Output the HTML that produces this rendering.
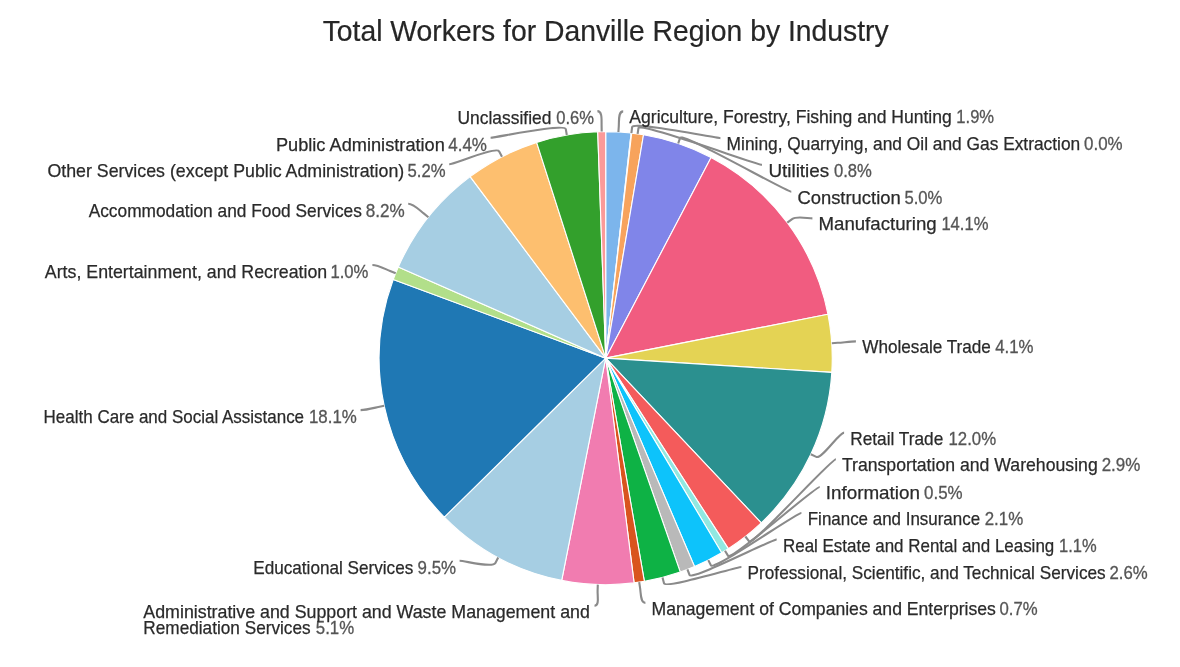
<!DOCTYPE html>
<html lang="en"><head><meta charset="utf-8"><title>Total Workers for Danville Region by Industry</title>
<style>
html,body{margin:0;padding:0;background:#fff;}
body{width:1180px;height:667px;overflow:hidden;font-family:"Liberation Sans",sans-serif;}
svg{display:block;}
text{font-family:"Liberation Sans",sans-serif;}
.t{font-size:28.8px;fill:#262626;stroke:#262626;stroke-width:.2px;}
.n{font-size:18.6px;fill:#2a2a2a;stroke:#2a2a2a;stroke-width:.25px;}
.p{font-size:18.6px;fill:#555555;stroke:#555555;stroke-width:.3px;}
.c{fill:none;stroke:#8a8a8a;stroke-width:2.1;stroke-linecap:butt;stroke-linejoin:round;}
</style></head><body>
<svg width="1180" height="667" viewBox="0 0 1180 667">
<rect width="1180" height="667" fill="#ffffff"/>
<text class="t" x="322.69" y="40.6" textLength="565.94" lengthAdjust="spacingAndGlyphs">Total Workers for Danville Region by Industry</text>
<g stroke="#ffffff" stroke-width="1.1" stroke-linejoin="round">
<path fill="#7cb5ec" d="M605.70 358.15L605.70 131.60A226.55 226.55 0 0 1 631.13 133.03Z"/>
<path fill="#434348" d="M605.70 358.15L631.13 133.03A226.55 226.55 0 0 1 631.69 133.10Z"/>
<path fill="#f7a35c" d="M605.70 358.15L631.69 133.10A226.55 226.55 0 0 1 643.53 134.78Z"/>
<path fill="#8085e9" d="M605.70 358.15L643.53 134.78A226.55 226.55 0 0 1 711.08 157.60Z"/>
<path fill="#f15c80" d="M605.70 358.15L711.08 157.60A226.55 226.55 0 0 1 827.97 314.30Z"/>
<path fill="#e4d354" d="M605.70 358.15L827.97 314.30A226.55 226.55 0 0 1 831.80 372.38Z"/>
<path fill="#2b908f" d="M605.70 358.15L831.80 372.38A226.55 226.55 0 0 1 761.23 522.88Z"/>
<path fill="#f45b5b" d="M605.70 358.15L761.23 522.88A226.55 226.55 0 0 1 728.29 548.67Z"/>
<path fill="#91e8e1" d="M605.70 358.15L728.29 548.67A226.55 226.55 0 0 1 721.64 552.79Z"/>
<path fill="#0dc3fb" d="M605.70 358.15L721.64 552.79A226.55 226.55 0 0 1 694.50 566.57Z"/>
<path fill="#b9b9b9" d="M605.70 358.15L694.50 566.57A226.55 226.55 0 0 1 680.29 572.07Z"/>
<path fill="#0eb245" d="M605.70 358.15L680.29 572.07A226.55 226.55 0 0 1 644.37 581.38Z"/>
<path fill="#d9541e" d="M605.70 358.15L644.37 581.38A226.55 226.55 0 0 1 634.09 582.91Z"/>
<path fill="#f17cb0" d="M605.70 358.15L634.09 582.91A226.55 226.55 0 0 1 561.71 580.39Z"/>
<path fill="#a6cee3" d="M605.70 358.15L561.71 580.39A226.55 226.55 0 0 1 444.30 517.13Z"/>
<path fill="#1f78b4" d="M605.70 358.15L444.30 517.13A226.55 226.55 0 0 1 393.23 279.54Z"/>
<path fill="#b2df8a" d="M605.70 358.15L393.23 279.54A226.55 226.55 0 0 1 398.29 267.00Z"/>
<path fill="#a6cee3" d="M605.70 358.15L398.29 267.00A226.55 226.55 0 0 1 470.16 176.61Z"/>
<path fill="#fdbf6f" d="M605.70 358.15L470.16 176.61A226.55 226.55 0 0 1 536.64 142.38Z"/>
<path fill="#33a02c" d="M605.70 358.15L536.64 142.38A226.55 226.55 0 0 1 597.73 131.74Z"/>
<path fill="#fb9a99" d="M605.70 358.15L597.73 131.74A226.55 226.55 0 0 1 605.70 131.60Z"/>
</g>
<g class="c">
<path d="M623.2 111.4C618.2 111.4 619.1 120.0 618.8 126.0L618.4 132.0"/>
<path d="M720.4 138.1C715.4 138.1 632.8 121.1 632.1 127.1L631.4 133.1"/>
<path d="M762.0 164.8C757.0 164.8 639.3 122.0 638.5 127.9L637.6 133.9"/>
<path d="M791.3 191.7C786.3 191.7 682.0 132.1 680.1 137.8L678.2 143.5"/>
<path d="M812.4 218.4C807.4 218.4 796.9 215.5 792.1 219.1L787.3 222.7"/>
<path d="M855.9 341.4C850.9 341.4 843.7 342.4 837.7 342.8L831.8 343.2"/>
<path d="M844.1 432.6C839.1 432.6 821.7 459.4 816.3 456.9L810.8 454.3"/>
<path d="M835.9 459.3C830.9 459.3 752.8 546.0 749.1 541.3L745.4 536.5"/>
<path d="M819.7 487.0C814.7 487.0 731.3 561.0 728.1 555.9L725.0 550.8"/>
<path d="M801.4 513.0C796.4 513.0 713.7 570.8 711.0 565.5L708.3 560.1"/>
<path d="M776.7 539.5C771.7 539.5 691.8 580.6 689.6 575.0L687.4 569.4"/>
<path d="M741.4 567.0C736.4 567.0 665.5 589.1 664.0 583.3L662.5 577.5"/>
<path d="M645.4 602.9C640.4 602.9 641.0 594.1 640.1 588.1L639.2 582.2"/>
<path d="M594.5 605.7C599.5 605.7 597.4 596.6 597.6 590.6L597.8 584.6"/>
<path d="M459.6 560.8C464.6 560.8 492.6 568.2 495.4 562.9L498.2 557.6"/>
<path d="M360.6 410.1C365.6 410.1 372.5 408.3 378.3 407.0L384.2 405.8"/>
<path d="M372.4 265.0C377.4 265.0 384.5 268.7 390.1 271.0L395.7 273.2"/>
<path d="M408.2 203.8C413.2 203.8 419.0 209.7 423.7 213.4L428.4 217.2"/>
<path d="M449.2 164.3C454.2 164.3 496.5 146.1 499.2 151.4L502.0 156.7"/>
<path d="M490.6 137.7C495.6 137.7 564.8 123.1 565.8 129.1L566.8 135.0"/>
<path d="M597.4 111.1C602.4 111.1 601.5 119.6 601.6 125.6L601.7 131.6"/>
</g>
<text class="n" x="629.36" y="123.4" textLength="322.40" lengthAdjust="spacingAndGlyphs">Agriculture, Forestry, Fishing and Hunting</text><text class="p" x="956.31" y="123.4" textLength="37.80" lengthAdjust="spacingAndGlyphs">1.9%</text>
<text class="n" x="726.61" y="150.1" textLength="353.62" lengthAdjust="spacingAndGlyphs">Mining, Quarrying, and Oil and Gas Extraction</text><text class="p" x="1084.04" y="150.1" textLength="38.57" lengthAdjust="spacingAndGlyphs">0.0%</text>
<text class="n" x="768.40" y="176.8" textLength="60.87" lengthAdjust="spacingAndGlyphs">Utilities</text><text class="p" x="833.96" y="176.8" textLength="37.93" lengthAdjust="spacingAndGlyphs">0.8%</text>
<text class="n" x="797.40" y="203.7" textLength="103.36" lengthAdjust="spacingAndGlyphs">Construction</text><text class="p" x="904.39" y="203.7" textLength="38.01" lengthAdjust="spacingAndGlyphs">5.0%</text>
<text class="n" x="818.50" y="230.4" textLength="118.11" lengthAdjust="spacingAndGlyphs">Manufacturing</text><text class="p" x="941.40" y="230.4" textLength="47.04" lengthAdjust="spacingAndGlyphs">14.1%</text>
<text class="n" x="862.23" y="353.4" textLength="128.68" lengthAdjust="spacingAndGlyphs">Wholesale Trade</text><text class="p" x="995.24" y="353.4" textLength="38.29" lengthAdjust="spacingAndGlyphs">4.1%</text>
<text class="n" x="850.26" y="444.6" textLength="92.97" lengthAdjust="spacingAndGlyphs">Retail Trade</text><text class="p" x="948.47" y="444.6" textLength="47.63" lengthAdjust="spacingAndGlyphs">12.0%</text>
<text class="n" x="841.90" y="471.3" textLength="255.81" lengthAdjust="spacingAndGlyphs">Transportation and Warehousing</text><text class="p" x="1101.66" y="471.3" textLength="38.65" lengthAdjust="spacingAndGlyphs">2.9%</text>
<text class="n" x="825.74" y="499.0" textLength="94.21" lengthAdjust="spacingAndGlyphs">Information</text><text class="p" x="924.04" y="499.0" textLength="38.57" lengthAdjust="spacingAndGlyphs">0.5%</text>
<text class="n" x="807.78" y="525.0" textLength="172.34" lengthAdjust="spacingAndGlyphs">Finance and Insurance</text><text class="p" x="984.69" y="525.0" textLength="38.51" lengthAdjust="spacingAndGlyphs">2.1%</text>
<text class="n" x="783.02" y="551.5" textLength="271.21" lengthAdjust="spacingAndGlyphs">Real Estate and Rental and Leasing</text><text class="p" x="1059.01" y="551.5" textLength="37.65" lengthAdjust="spacingAndGlyphs">1.1%</text>
<text class="n" x="747.62" y="579.0" textLength="358.02" lengthAdjust="spacingAndGlyphs">Professional, Scientific, and Technical Services</text><text class="p" x="1109.55" y="579.0" textLength="38.22" lengthAdjust="spacingAndGlyphs">2.6%</text>
<text class="n" x="651.58" y="614.9" textLength="344.24" lengthAdjust="spacingAndGlyphs">Management of Companies and Enterprises</text><text class="p" x="999.52" y="614.9" textLength="38.15" lengthAdjust="spacingAndGlyphs">0.7%</text>
<text class="n" x="143.34" y="634.0" textLength="167.29" lengthAdjust="spacingAndGlyphs">Remediation Services</text><text class="p" x="315.80" y="634.0" textLength="38.35" lengthAdjust="spacingAndGlyphs">5.1%</text>
<text class="n" x="253.24" y="573.6" textLength="160.06" lengthAdjust="spacingAndGlyphs">Educational Services</text><text class="p" x="417.56" y="573.6" textLength="38.51" lengthAdjust="spacingAndGlyphs">9.5%</text>
<text class="n" x="43.60" y="422.9" textLength="260.47" lengthAdjust="spacingAndGlyphs">Health Care and Social Assistance</text><text class="p" x="308.96" y="422.9" textLength="47.82" lengthAdjust="spacingAndGlyphs">18.1%</text>
<text class="n" x="44.87" y="277.8" textLength="282.40" lengthAdjust="spacingAndGlyphs">Arts, Entertainment, and Recreation</text><text class="p" x="330.46" y="277.8" textLength="37.99" lengthAdjust="spacingAndGlyphs">1.0%</text>
<text class="n" x="88.66" y="216.6" textLength="273.21" lengthAdjust="spacingAndGlyphs">Accommodation and Food Services</text><text class="p" x="365.68" y="216.6" textLength="38.97" lengthAdjust="spacingAndGlyphs">8.2%</text>
<text class="n" x="47.39" y="177.1" textLength="356.82" lengthAdjust="spacingAndGlyphs">Other Services (except Public Administration)</text><text class="p" x="407.56" y="177.1" textLength="38.03" lengthAdjust="spacingAndGlyphs">5.2%</text>
<text class="n" x="275.90" y="150.5" textLength="168.96" lengthAdjust="spacingAndGlyphs">Public Administration</text><text class="p" x="448.23" y="150.5" textLength="38.75" lengthAdjust="spacingAndGlyphs">4.4%</text>
<text class="n" x="457.55" y="123.9" textLength="93.81" lengthAdjust="spacingAndGlyphs">Unclassified</text><text class="p" x="556.18" y="123.9" textLength="37.76" lengthAdjust="spacingAndGlyphs">0.6%</text>
<text class="n" x="143.34" y="617.7" textLength="446.51" lengthAdjust="spacingAndGlyphs">Administrative and Support and Waste Management and</text>
</svg>
</body></html>
